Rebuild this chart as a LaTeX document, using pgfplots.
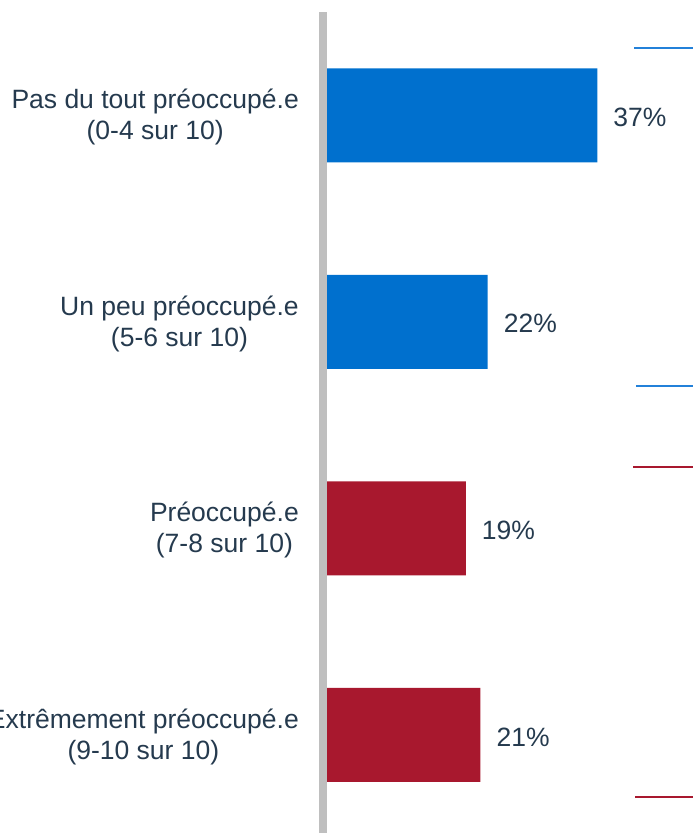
\documentclass[border=0pt]{standalone}
\usepackage{pgfplots}
\pgfplotsset{compat=1.18}
\usepackage{fontspec}
\setmainfont{Liberation Sans}
\definecolor{txt}{HTML}{253A4E}
\definecolor{barblue}{HTML}{0070CE}
\definecolor{barred}{HTML}{A8182E}
\definecolor{lineblue}{HTML}{2381D9}
\definecolor{axgray}{HTML}{BFBFBF}
\begin{document}
\begin{tikzpicture}
\begin{axis}[
  at={(0,0)}, anchor=south west,
  scale only axis, width=366pt, height=821pt,
  xbar, bar width=0.455, bar shift=0pt,
  xmin=0, xmax=50.1,
  ymin=-0.5, ymax=3.475, y dir=reverse,
  axis line style={draw=none},
  xtick=\empty,
  ytick={0,1,2,3},
  yticklabels={{Pas du tout préoccupé.e\\(0-4 sur 10)},{Un peu préoccupé.e\\(5-6 sur 10)},{Préoccupé.e\\(7-8 sur 10)},{Extrêmement préoccupé.e\\(9-10 sur 10)}},
  major tick length=0pt,
  yticklabel style={align=center, anchor=east, inner sep=0pt, xshift=-28pt, yshift=-2pt, font=\fontsize{26.5}{31}\selectfont, text=txt},
  /pgf/number format/assume math mode=true,
  point meta=x,
  nodes near coords={\pgfmathprintnumber{\pgfplotspointmeta}\%},
  nodes near coords style={anchor=west, inner sep=0pt, xshift=16pt, yshift=-2pt, font=\fontsize{26.5}{30}\selectfont, text=txt},
  clip=false,
]
\addplot[fill=barblue, draw=none] coordinates {(37,0) (22,1)};
\addplot[fill=barred, draw=none] coordinates {(19,2) (21,3)};
\draw[axgray, line width=8pt] ([xshift=-4pt]rel axis cs:0,0) -- ([xshift=-4pt]rel axis cs:0,1);
\draw[lineblue, line width=2pt] (axis cs:42.05,-0.327) -- (axis cs:50.1,-0.327);
\draw[lineblue, line width=2pt] (axis cs:42.3,1.31) -- (axis cs:50.1,1.31);
\draw[barred, line width=2pt] (axis cs:41.9,1.702) -- (axis cs:50.1,1.702);
\draw[barred, line width=2pt] (axis cs:42.2,3.30) -- (axis cs:50.1,3.30);
\end{axis}
\pgfresetboundingbox
\path[use as bounding box] (-327pt,0) rectangle (366pt,833pt);
\end{tikzpicture}
\end{document}
